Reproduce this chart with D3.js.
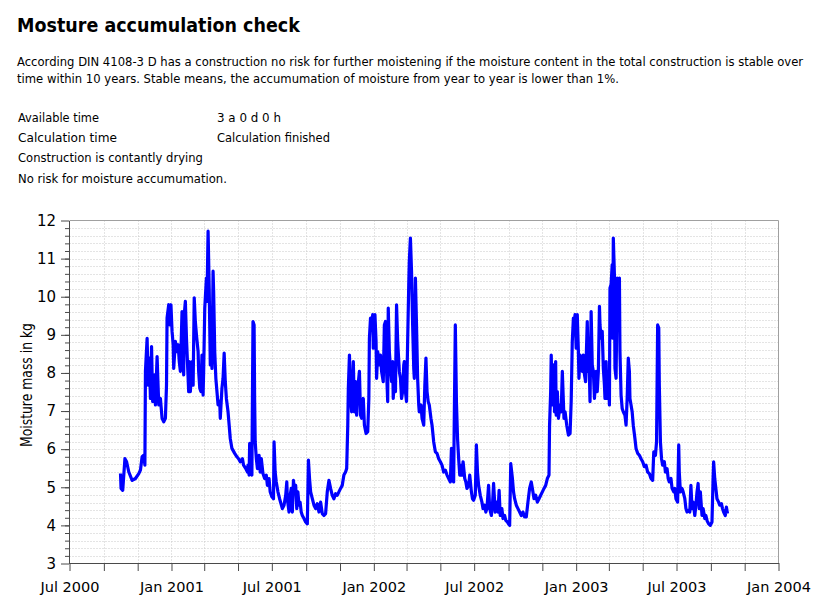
<!DOCTYPE html>
<html><head><meta charset="utf-8">
<script src="https://cdn.jsdelivr.net/npm/d3@7"></script>
<style>body{margin:0;background:#fff}svg{display:block}</style>
</head><body>
<svg id="chart" width="830" height="611"></svg>
<script>
const titleText = "Mosture accumulation check";
const descriptionLines = [
  "According DIN 4108-3 D has a construction no risk for further moistening if the moisture content in the total construction is stable over",
  "time within 10 years. Stable means, the accumumation of moisture from year to year is lower than 1%."
];
const infoLabels = ["Available time", "Calculation time", "Construction is contantly drying", "No risk for moisture accumumation."];
const infoValues = ["3 a 0 d 0 h", "Calculation finished", "", ""];
const yAxisTitle = "Moisture mass in kg";
const xTickDates = ["2000-07-01","2001-01-01","2001-07-01","2002-01-01","2002-07-01","2003-01-01","2003-07-01","2004-01-01"];
const xTickLabels = ["Jul 2000","Jan 2001","Jul 2001","Jan 2002","Jul 2002","Jan 2003","Jul 2003","Jan 2004"];
const yTickValues = [3,4,5,6,7,8,9,10,11,12];

const season2000 = [
["2000-10-01",5.36],["2000-10-02",4.97],["2000-10-05",4.92],["2000-10-09",5.75],["2000-10-12",5.67],["2000-10-16",5.40],["2000-10-22",5.18],["2000-10-28",5.23],
["2000-11-03",5.36],["2000-11-06",5.45],["2000-11-09",5.80],["2000-11-12",5.84],["2000-11-14",5.58],["2000-11-15",8.04],["2000-11-18",8.91],["2000-11-20",7.68],
["2000-11-22",8.39],["2000-11-24",7.33],["2000-11-26",8.69],["2000-11-28",7.25],["2000-12-01",7.95],["2000-12-03",7.16],["2000-12-06",8.43],["2000-12-09",7.16],
["2000-12-12",7.33],["2000-12-15",6.81],["2000-12-18",6.72],["2000-12-21",6.81],["2000-12-23",7.68],["2000-12-24",9.44],["2000-12-27",9.79],["2000-12-29",9.26],
["2000-12-31",9.79],["2001-01-02",9.09],["2001-01-04",8.74],["2001-01-05",8.12],["2001-01-08",8.83],["2001-01-10",8.56],["2001-01-13",8.74],["2001-01-15",8.30],
["2001-01-17",8.04],["2001-01-20",9.61],["2001-01-23",7.95],["2001-01-24",9.53],["2001-01-26",9.88],["2001-01-28",8.91],["2001-01-30",8.21],["2001-02-01",7.51],
["2001-02-02",8.30],["2001-02-04",7.51],["2001-02-07",8.30],["2001-02-09",7.68],["2001-02-11",9.97],["2001-02-13",9.35],["2001-02-15",9.00],["2001-02-18",8.56],
["2001-02-19",8.04],["2001-02-21",7.60],["2001-02-23",7.51],["2001-02-25",8.47],["2001-02-27",7.42],["2001-02-28",8.04],["2001-03-02",9.70],["2001-03-05",10.49],
["2001-03-06",9.88],["2001-03-08",11.72],["2001-03-10",10.23],["2001-03-12",8.21],["2001-03-14",9.26],["2001-03-15",8.12],["2001-03-17",10.67],["2001-03-18",10.14],
["2001-03-20",8.56],["2001-03-22",7.86],["2001-03-24",7.51],["2001-03-26",7.16],["2001-03-29",7.25],["2001-03-30",6.81],["2001-04-02",7.60],["2001-04-04",7.86],
["2001-04-06",8.52],["2001-04-08",7.77],["2001-04-10",7.33],["2001-04-13",6.98],["2001-04-15",6.63],["2001-04-17",6.28],["2001-04-20",6.02],["2001-04-25",5.89],
["2001-04-29",5.80],["2001-05-02",5.75],["2001-05-05",5.67],["2001-05-09",5.75],["2001-05-11",5.58],["2001-05-15",5.49],["2001-05-18",5.40],["2001-05-19",5.58],
["2001-05-21",5.32],["2001-05-22",6.15],["2001-05-24",5.40],["2001-05-26",5.32],["2001-05-28",9.35],["2001-05-30",9.26],["2001-05-31",7.25],["2001-06-01",6.19],
["2001-06-03",5.75],["2001-06-05",5.49],["2001-06-08",5.84],["2001-06-10",5.40],["2001-06-12",5.75],["2001-06-15",5.36],["2001-06-18",5.23],["2001-06-21",5.32],
["2001-06-23",5.05],["2001-06-26",5.23],["2001-06-28",4.88],["2001-07-01",4.75],["2001-07-04",4.70],["2001-07-05",6.19]
];
const season2001 = [
["2001-07-07",5.40],["2001-07-09",5.14],["2001-07-12",4.88],["2001-07-15",4.70],["2001-07-20",4.44],["2001-07-23",4.53],["2001-07-26",4.79],["2001-07-28",5.14],
["2001-07-29",4.70],["2001-08-01",4.35],["2001-08-02",4.70],["2001-08-05",4.97],["2001-08-07",4.35],["2001-08-09",5.18],["2001-08-11",4.88],["2001-08-13",5.05],
["2001-08-15",4.44],["2001-08-17",4.88],["2001-08-19",4.53],["2001-08-21",4.61],["2001-08-23",4.35],["2001-08-25",4.26],["2001-08-28",4.18],["2001-08-31",4.09],
["2001-09-03",4.04],["2001-09-05",5.71],["2001-09-07",5.23],["2001-09-09",4.88],["2001-09-12",4.70],["2001-09-15",4.53],["2001-09-18",4.44],["2001-09-21",4.57],
["2001-09-24",4.35],["2001-09-27",4.61],["2001-09-30",4.31],["2001-10-03",4.26],["2001-10-06",4.31],["2001-10-09",4.88],["2001-10-12",5.18],["2001-10-15",4.97],
["2001-10-18",4.79],["2001-10-21",4.70],["2001-10-24",4.83],["2001-10-27",4.79],["2001-10-30",4.88],["2001-11-02",4.97],["2001-11-05",5.05],["2001-11-08",5.32],
["2001-11-11",5.40],["2001-11-13",5.49],["2001-11-15",6.63],["2001-11-16",7.60],["2001-11-18",8.47],["2001-11-20",7.33],["2001-11-22",6.98],["2001-11-24",7.86],
["2001-11-25",8.30],["2001-11-27",6.98],["2001-11-29",7.77],["2001-12-01",6.89],["2001-12-03",7.60],["2001-12-06",8.04],["2001-12-08",6.89],["2001-12-10",6.81],
["2001-12-13",7.33],["2001-12-15",6.63],["2001-12-18",6.41],["2001-12-21",6.46],["2001-12-23",7.33],["2001-12-24",8.91],["2001-12-26",9.44],["2001-12-28",9.26],
["2001-12-30",9.53],["2001-12-31",8.65],["2002-01-03",9.53],["2002-01-05",8.83],["2002-01-06",7.86],["2002-01-08",8.56],["2002-01-11",8.21],["2002-01-13",8.47],
["2002-01-15",8.04],["2002-01-18",7.77],["2002-01-20",9.26],["2002-01-22",9.35],["2002-01-24",8.04],["2002-01-26",7.25],["2002-01-27",9.70],["2002-01-29",8.56],
["2002-01-31",8.12],["2002-02-02",7.77],["2002-02-04",8.30],["2002-02-05",7.33],["2002-02-07",7.86],["2002-02-09",7.51],["2002-02-11",9.79],["2002-02-13",8.83],
["2002-02-15",8.30],["2002-02-16",8.04],["2002-02-18",7.86],["2002-02-20",7.33],["2002-02-22",7.51],["2002-02-24",8.21],["2002-02-25",8.30],["2002-02-27",7.51],
["2002-03-01",7.25],["2002-03-03",8.83],["2002-03-05",10.32],["2002-03-06",10.93],["2002-03-08",11.54],["2002-03-10",10.67],["2002-03-12",9.26],["2002-03-14",8.12],
["2002-03-15",7.86],["2002-03-17",10.49],["2002-03-19",9.26],["2002-03-21",7.86],["2002-03-23",7.16],["2002-03-24",6.98],["2002-03-27",7.16],["2002-03-29",6.81],
["2002-04-01",6.63],["2002-04-03",7.68],["2002-04-05",8.39],["2002-04-07",7.51],["2002-04-09",7.25],["2002-04-11",7.16],["2002-04-14",6.81]
];
const season2002 = [
["2002-04-16",6.63],["2002-04-19",6.19],["2002-04-22",5.93],["2002-04-25",5.89],["2002-04-28",5.75],["2002-05-01",5.67],["2002-05-04",5.58],["2002-05-07",5.40],
["2002-05-10",5.45],["2002-05-13",5.32],["2002-05-16",5.23],["2002-05-19",5.14],["2002-05-21",6.02],["2002-05-23",5.23],["2002-05-25",5.14],["2002-05-26",6.63],
["2002-05-28",9.26],["2002-05-30",7.25],["2002-06-01",6.28],["2002-06-03",5.75],["2002-06-05",5.32],["2002-06-06",5.58],["2002-06-09",5.32],["2002-06-11",5.67],
["2002-06-14",5.23],["2002-06-16",5.14],["2002-06-18",4.97],["2002-06-21",5.05],["2002-06-23",5.32],["2002-06-26",4.88],["2002-06-28",4.70],["2002-06-30",4.66],
["2002-07-03",4.79],["2002-07-05",6.11],["2002-07-07",5.40],["2002-07-09",5.05],["2002-07-12",4.79],["2002-07-15",4.61],["2002-07-17",4.44],["2002-07-20",4.53],
["2002-07-22",4.35],["2002-07-24",4.44],["2002-07-27",5.05],["2002-07-29",4.44],["2002-08-01",4.26],["2002-08-03",4.53],["2002-08-05",5.10],["2002-08-08",4.35],
["2002-08-10",4.61],["2002-08-13",4.35],["2002-08-15",4.92],["2002-08-17",4.26],["2002-08-20",4.44],["2002-08-22",4.18],["2002-08-25",4.26],["2002-08-27",4.13],
["2002-08-30",4.09],["2002-09-01",4.04],["2002-09-03",4.00],["2002-09-05",5.62],["2002-09-08",5.23],["2002-09-10",4.88],["2002-09-12",4.70],["2002-09-15",4.53],
["2002-09-18",4.44],["2002-09-21",4.35],["2002-09-24",4.26],["2002-09-27",4.35],["2002-09-30",4.22],["2002-10-03",4.22],["2002-10-06",4.61],["2002-10-09",4.97],
["2002-10-12",5.14],["2002-10-14",4.97],["2002-10-17",4.70],["2002-10-20",4.79],["2002-10-23",4.61],["2002-10-26",4.70],["2002-10-29",4.79],["2002-11-01",4.88],
["2002-11-04",4.97],["2002-11-07",5.05],["2002-11-10",5.23],["2002-11-13",5.32],["2002-11-14",6.63],["2002-11-16",7.51],["2002-11-17",8.47],["2002-11-19",7.16],
["2002-11-21",8.21],["2002-11-23",6.98],["2002-11-25",8.30],["2002-11-26",6.89],["2002-11-28",7.51],["2002-11-30",6.81],["2002-12-03",7.16],["2002-12-05",6.98],
["2002-12-07",8.04],["2002-12-10",6.81],["2002-12-12",6.98],["2002-12-15",6.63],["2002-12-18",6.37],["2002-12-21",6.41],["2002-12-23",7.25],["2002-12-25",8.83],
["2002-12-27",9.44],["2002-12-28",9.26],["2002-12-30",9.53],["2003-01-01",8.65],["2003-01-03",9.53],["2003-01-05",8.56],["2003-01-06",7.86],["2003-01-08",8.47],
["2003-01-10",8.39],["2003-01-12",8.04],["2003-01-14",8.47],["2003-01-16",7.95],["2003-01-18",7.77],["2003-01-21",9.35],["2003-01-23",8.04],["2003-01-24",8.47],
["2003-01-26",7.25],["2003-01-28",9.61],["2003-01-30",8.21]
];
const season2003 = [
["2003-02-01",8.04],["2003-02-03",7.33],["2003-02-06",8.04],["2003-02-08",7.51],["2003-02-10",8.04],["2003-02-12",9.75],["2003-02-13",9.26],["2003-02-15",8.91],
["2003-02-17",9.09],["2003-02-19",8.12],["2003-02-21",7.68],["2003-02-22",7.33],["2003-02-24",8.30],["2003-02-26",7.33],["2003-02-28",7.95],["2003-03-02",7.16],
["2003-03-03",10.23],["2003-03-05",10.32],["2003-03-07",10.84],["2003-03-08",8.91],["2003-03-09",11.54],["2003-03-11",10.58],["2003-03-12",8.12],["2003-03-14",7.86],
["2003-03-16",10.49],["2003-03-18",9.26],["2003-03-20",10.49],["2003-03-21",8.56],["2003-03-23",7.42],["2003-03-25",7.07],["2003-03-27",6.98],["2003-03-30",6.89],
["2003-04-01",6.63],["2003-04-03",7.33],["2003-04-05",8.39],["2003-04-07",8.04],["2003-04-08",7.33],["2003-04-10",7.16],["2003-04-12",6.98],["2003-04-14",6.63],
["2003-04-17",6.28],["2003-04-19",6.02],["2003-04-22",5.89],["2003-04-25",5.84],["2003-04-28",5.75],["2003-05-01",5.67],["2003-05-04",5.54],["2003-05-07",5.58],
["2003-05-10",5.40],["2003-05-13",5.36],["2003-05-16",5.23],["2003-05-19",5.18],["2003-05-21",5.93],["2003-05-24",5.84],["2003-05-26",6.19],["2003-05-28",9.26],
["2003-05-30",9.18],["2003-05-31",7.68],["2003-06-02",6.19],["2003-06-04",5.75],["2003-06-06",5.58],["2003-06-09",5.67],["2003-06-11",5.40],["2003-06-14",5.49],
["2003-06-16",5.23],["2003-06-18",5.14],["2003-06-21",5.23],["2003-06-23",4.97],["2003-06-26",4.88],["2003-06-28",4.97],["2003-06-30",4.70],["2003-07-03",4.61],
["2003-07-05",6.11],["2003-07-06",5.40],["2003-07-08",4.88],["2003-07-11",4.97],["2003-07-13",4.88],["2003-07-16",4.70],["2003-07-18",4.44],["2003-07-20",4.35],
["2003-07-23",4.40],["2003-07-25",4.35],["2003-07-27",5.05],["2003-07-29",4.44],["2003-07-31",4.61],["2003-08-03",4.26],["2003-08-05",4.53],["2003-08-07",4.88],
["2003-08-09",5.10],["2003-08-11",4.44],["2003-08-13",4.88],["2003-08-16",4.26],["2003-08-18",4.44],["2003-08-21",4.18],["2003-08-23",4.26],["2003-08-25",4.13],
["2003-08-28",4.04],["2003-08-31",4.00],["2003-09-03",4.09],["2003-09-05",5.23],["2003-09-06",5.67],["2003-09-08",5.23],["2003-09-10",4.97],["2003-09-12",4.70],
["2003-09-15",4.61],["2003-09-17",4.53],["2003-09-20",4.57],["2003-09-22",4.44],["2003-09-24",4.35],["2003-09-27",4.26],["2003-09-29",4.48],["2003-10-01",4.31]
];

const parse = d3.timeParse("%Y-%m-%d");
const data = [...season2000, ...season2001, ...season2002, ...season2003]
  .map(([d, v]) => ({ date: parse(d), value: v }));

const svg = d3.select("#chart");
const FONT = "'DejaVu Sans', Verdana, sans-serif";

// text drawn at a size, then narrowed horizontally (group transform) to the reference width
function addText(x, y, str, size, target, weight, rotate) {
  const g = svg.append("g");
  const t = g.append("text").attr("x", 0).attr("y", 0)
    .attr("font-family", FONT).attr("font-size", size)
    .attr("font-weight", weight || "normal").attr("fill", "#000").text(str);
  if (rotate) t.attr("text-anchor", "middle");
  const w = t.node().getComputedTextLength();
  const s = target && w > target ? target / w : 1;
  g.attr("transform", `translate(${x},${y})` + (rotate ? ` rotate(${rotate})` : "") + ` scale(${s},1)`);
  return g;
}

// Title
addText(17, 32, titleText, 19.5, 283, "bold");

// Description
addText(17, 66, descriptionLines[0], 12.6, 786);
addText(17, 83, descriptionLines[1], 12.6, 602);

const infoBaselines = [122, 142, 162, 183];
const infoWidths = [81, 99, 185, 209];
const infoValueWidths = [64, 113, 0, 0];
infoLabels.forEach((t, i) => {
  addText(18, infoBaselines[i], t, 12.6, infoWidths[i]);
  if (infoValues[i]) addText(217, infoBaselines[i], infoValues[i], 12.6, infoValueWidths[i]);
});

// Scales
const x = d3.scaleTime()
  .domain([parse(xTickDates[0]), parse(xTickDates[xTickDates.length - 1])])
  .range([69.5, 778.5]);
const y = d3.scaleLinear()
  .domain([yTickValues[0], yTickValues[yTickValues.length - 1]])
  .range([563.5, 220.5]);

// Grid
const gridColor = "#c9c9c9";
const minorMonths = d3.timeMonth.every(2).range(x.domain()[0], x.domain()[1]).filter(d => +d !== +x.domain()[0]);
svg.append("g").selectAll("line").data(minorMonths).join("line")
  .attr("x1", d => Math.round(x(d)) + 0.5).attr("x2", d => Math.round(x(d)) + 0.5)
  .attr("y1", y.range()[1]).attr("y2", y.range()[0])
  .attr("stroke", gridColor).attr("stroke-width", 1).attr("stroke-dasharray", "1,2");
const minorY = y.ticks(45).filter(v => v > y.domain()[0] && v < y.domain()[1]);
svg.append("g").selectAll("line").data(minorY).join("line")
  .attr("x1", x.range()[0]).attr("x2", x.range()[1])
  .attr("y1", d => Math.round(y(d)) + 0.5).attr("y2", d => Math.round(y(d)) + 0.5)
  .attr("stroke", gridColor).attr("stroke-width", 1).attr("stroke-dasharray", "1,2");

// Frame top/right
svg.append("line").attr("x1", x.range()[0]).attr("x2", x.range()[1]).attr("y1", 220.5).attr("y2", 220.5)
  .attr("stroke", "#a0a0a0");
svg.append("line").attr("x1", 778.5).attr("x2", 778.5).attr("y1", 220.5).attr("y2", 563.5)
  .attr("stroke", "#a0a0a0");

// Series line
svg.append("path").datum(data)
  .attr("fill", "none").attr("stroke", "#0000ff").attr("stroke-width", 3.2)
  .attr("stroke-linejoin", "round")
  .attr("d", d3.line().x(d => x(d.date)).y(d => y(d.value)));

// Axes
const axisColor = "#4a4a4a";
const labelMap = new Map(xTickDates.map((d, i) => [+parse(d), xTickLabels[i]]));
const xTicksAll = d3.timeMonth.every(2).range(x.domain()[0], d3.timeDay.offset(x.domain()[1], 1));
const gx = svg.append("g").attr("transform", "translate(0,563)")
  .call(d3.axisBottom(x).tickValues(xTicksAll).tickSize(8).tickSizeOuter(0)
    .tickFormat(d => labelMap.get(+d) || ""));
gx.selectAll("text").attr("font-family", FONT).attr("font-size", 14.5).attr("fill", "#000").attr("dy", 0).attr("y", 29);
gx.selectAll("line").attr("stroke", axisColor);
gx.select(".domain").attr("stroke", axisColor);

const gyMinor = svg.append("g").attr("transform", "translate(69,0)")
  .call(d3.axisLeft(y).tickValues(minorY).tickSize(4).tickSizeOuter(0).tickFormat(""));
gyMinor.selectAll("line").attr("stroke", axisColor);
gyMinor.select(".domain").remove();
const gy = svg.append("g").attr("transform", "translate(69,0)")
  .call(d3.axisLeft(y).tickValues(yTickValues).tickSize(8).tickSizeOuter(0).tickFormat(d3.format("d")));
gy.selectAll("text").attr("font-family", FONT).attr("font-size", 15).attr("fill", "#000").attr("x", -13);
gy.selectAll("line").attr("stroke", axisColor);
gy.select(".domain").attr("stroke", axisColor);

// Y axis title
addText(32, 385, yAxisTitle, 15, 124, "normal", -90);
</script>
</body></html>
